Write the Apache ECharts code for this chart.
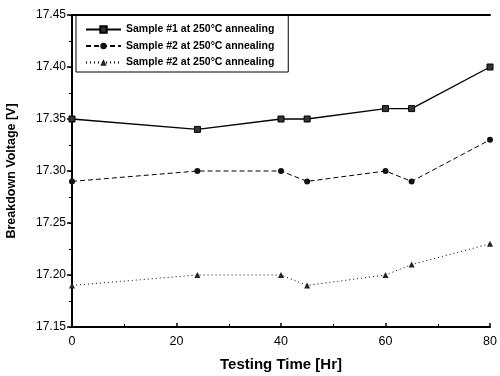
<!DOCTYPE html>
<html><head><meta charset="utf-8">
<script src="https://cdn.jsdelivr.net/npm/echarts@6/dist/echarts.min.js"></script>
<style>html,body{margin:0;padding:0;background:#fff}#c{width:500px;height:376px}</style>
</head><body><div id="c"></div>
<script>
const times = [0, 24, 40, 45, 60, 65, 80];
const sample1 = [17.35, 17.34, 17.35, 17.35, 17.36, 17.36, 17.40];
const sample2 = [17.29, 17.30, 17.30, 17.29, 17.30, 17.29, 17.33];
const sample3 = [17.19, 17.20, 17.20, 17.19, 17.20, 17.21, 17.23];
const seriesNames = ['Sample #1 at 250°C annealing', 'Sample #2 at 250°C annealing', 'Sample #2 at 250°C annealing '];
const xTitle = 'Testing Time [Hr]';
const yTitle = 'Breakdown Voltage [V]';

const pair = arr => times.map((t, i) => [t, arr[i]]);
const chart = echarts.init(document.getElementById('c'));
const axisLine = {show: true, lineStyle: {color: '#000', width: 2}};
const FONT = 'Liberation Sans, Arial';
chart.setOption({
  animation: false,
  grid: {left: 72, right: 10, top: 15, bottom: 49, containLabel: false, outerBoundsMode: 'none'},
  legend: {
    left: 76, top: 15, orient: 'vertical',
    borderColor: '#000', borderWidth: 1, padding: [9, 11, 4, 9],
    itemWidth: 35, itemHeight: 8, itemGap: 5.5,
    textStyle: {fontFamily: FONT, fontSize: 10.5, fontWeight: 'bold', color: '#000'},
    data: seriesNames
  },
  xAxis: [{
    type: 'value', min: 0, max: 80, interval: 20,
    name: xTitle, nameLocation: 'middle', nameGap: 30,
    nameTextStyle: {fontFamily: FONT, fontSize: 15, fontWeight: 'bold', color: '#000'},
    axisLine, axisTick: {show: true, inside: true, length: 4, lineStyle: {color: '#000', width: 1.5}},
    minorTick: {show: true, splitNumber: 2, length: 3, lineStyle: {color: '#000'}},
    axisLabel: {fontFamily: FONT, fontSize: 12.5, color: '#000', margin: 8},
    splitLine: {show: false}
  }, {
    type: 'value', position: 'top', min: 0, max: 80, interval: 20,
    axisLine, axisTick: {show: false}, axisLabel: {show: false}, splitLine: {show: false}
  }],
  yAxis: [{
    type: 'value', min: 17.15, max: 17.45, interval: 0.05,
    name: yTitle, nameLocation: 'middle', nameGap: 54, nameRotate: 90,
    nameTextStyle: {fontFamily: FONT, fontSize: 12.5, fontWeight: 'bold', color: '#000'},
    axisLine, axisTick: {show: true, length: 5, lineStyle: {color: '#000', width: 1.5}},
    minorTick: {show: true, splitNumber: 2, length: 3, lineStyle: {color: '#000'}},
    axisLabel: {fontFamily: FONT, fontSize: 12, color: '#000', margin: 6,
      formatter: v => v.toFixed(2)},
    splitLine: {show: false}
  }, {
    type: 'value', position: 'right', min: 17.15, max: 17.45, interval: 0.05,
    axisLine, axisTick: {show: true, inside: true, length: 3, lineStyle: {color: '#000'}},
    axisLabel: {show: false}, splitLine: {show: false}
  }],
  series: [{
    name: seriesNames[0], type: 'line', data: pair(sample1),
    symbol: 'rect', symbolSize: 6, itemStyle: {color: '#333', borderColor: '#000', borderWidth: 1},
    lineStyle: {color: '#000', width: 1.3, type: 'solid'}
  }, {
    name: seriesNames[1], type: 'line', data: pair(sample2),
    symbol: 'circle', symbolSize: 6, itemStyle: {color: '#111'},
    lineStyle: {color: '#000', width: 1, type: [5, 3]}
  }, {
    name: seriesNames[2], type: 'line', data: pair(sample3),
    symbol: 'triangle', symbolSize: 6, itemStyle: {color: '#222'},
    lineStyle: {color: '#000', width: 1, type: [1, 3]}
  }]
});
</script></body></html>
